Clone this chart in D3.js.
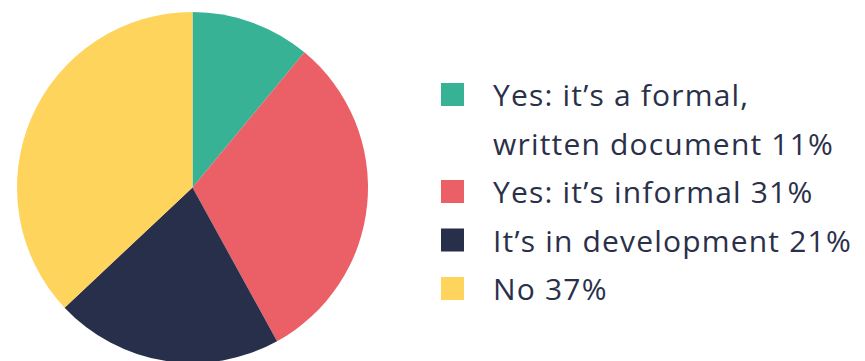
<!DOCTYPE html>
<html><head><meta charset="utf-8">
<script src="https://cdn.jsdelivr.net/npm/d3@7"></script>
<style>body{margin:0;background:#fff}svg{display:block}</style>
</head><body>
<svg id="c" width="865" height="361"></svg>
<script>
const categories = ["Yes: it’s a formal, written document", "Yes: it’s informal", "It’s in development", "No"];
const values = [11, 31, 21, 37];
const legendLines = [["Yes: it’s a formal,", "written document 11%"], ["Yes: it’s informal 31%"], ["It’s in development 21%"], ["No 37%"]];
const colors = ["#37b295", "#eb5f67", "#272f4b", "#fed45d"];

const svg = d3.select("#c");
const cx = 192.5, cy = 187.5, r = 175.5;
const pie = d3.pie().sort(null).value(d => d)(values);
const arc = d3.arc().innerRadius(0).outerRadius(r);
const color = d3.scaleOrdinal().domain(categories).range(colors);

svg.append("g").attr("transform", `translate(${cx},${cy})`)
  .selectAll("path").data(pie).join("path")
  .attr("d", arc).attr("fill", (d, i) => color(categories[i]));

const lineH = 48.5;
const lg = svg.append("g");
let line = 0;
const firstBase = 106;
const fontSize = 30;
categories.forEach((c, i) => {
  const base = firstBase + line * lineH;
  lg.append("rect").attr("x", 441).attr("y", base - 23).attr("width", 23).attr("height", 23)
    .attr("fill", color(c));
  legendLines[i].forEach((t, j) => {
    lg.append("text").attr("x", 493).attr("y", base + j * lineH)
      .attr("font-family", "'Open Sans', 'Noto Sans', sans-serif").attr("font-size", fontSize)
      .attr("font-weight", 400)
      .attr("fill", "#2a3049").text(t);
  });
  line += legendLines[i].length;
});
// fit width of widest line to the reference
const texts = lg.selectAll("text").nodes();
const w = texts[1].getComputedTextLength();
const n = "written document 11%".length;
const ls = (341 - w) / n;
lg.selectAll("text").attr("letter-spacing", ls);
</script>
</body></html>
